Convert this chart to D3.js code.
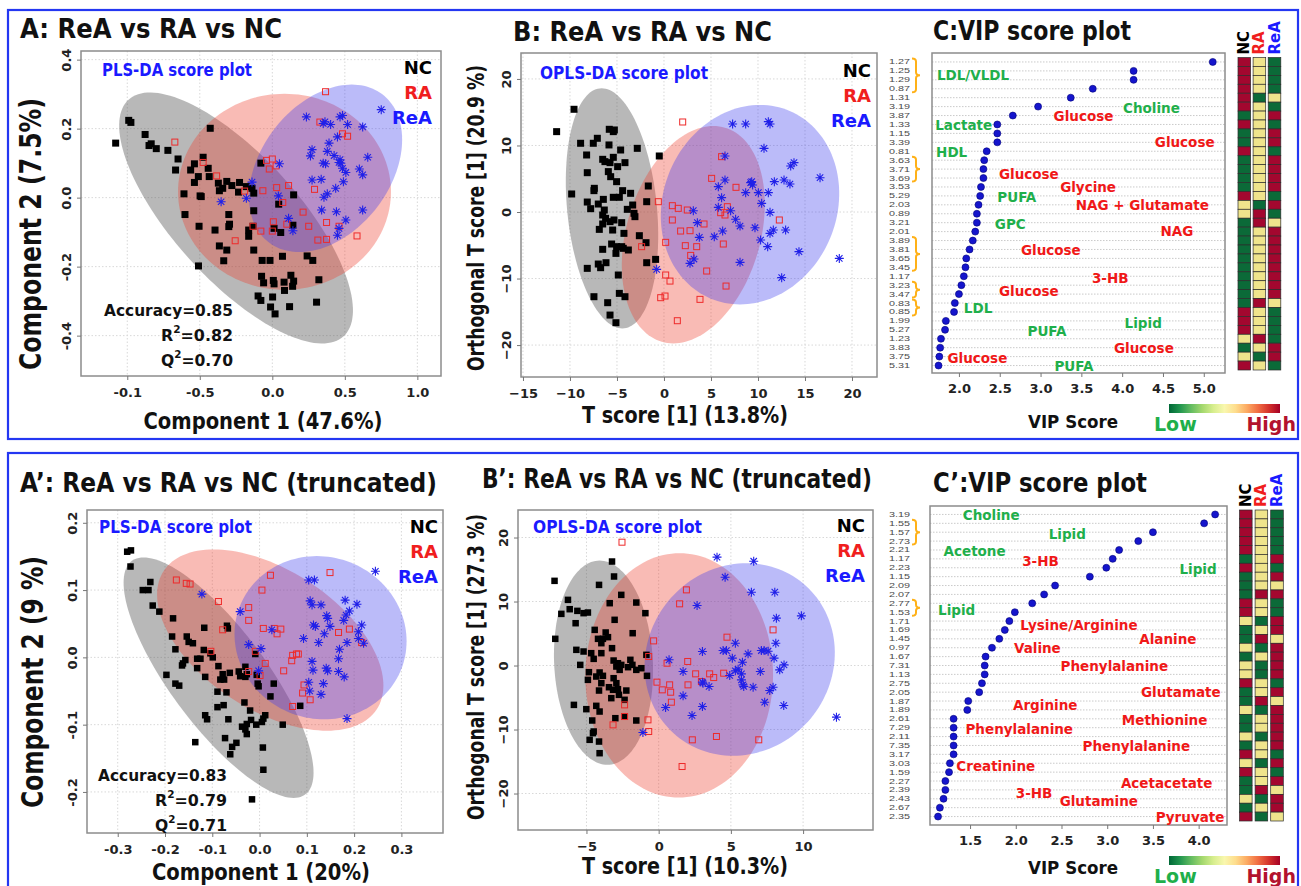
<!DOCTYPE html>
<html>
<head>
<meta charset="utf-8">
<title>PLS-DA / OPLS-DA / VIP</title>
<script src="https://cdn.jsdelivr.net/npm/d3@7"></script>
<style>
  body { margin: 0; background: #fff; }
  svg text { font-family: 'DejaVu Sans', sans-serif; font-weight: bold; }
</style>
</head>
<body>
<script>
// ---------- data: PLS-DA (A) ----------
const plsNC = [[-1.08,0.158],[-0.99,0.224],[-0.975,0.218],[-0.877,0.183],[-0.85,0.151],[-0.835,0.156],[-0.80,0.142],[-0.72,0.137],[-0.65,0.112],[-0.667,0.08],[-0.563,0.08],[-0.537,0.098],[-0.477,0.117],[-0.428,0.201],[-0.442,0.085],[-0.51,0.061],[-0.537,0.044],[-0.435,0.061],[-0.609,0.011],[-0.498,0.005],[-0.49,0.003],[-0.602,-0.049],[-0.372,0.042],[-0.365,0.02],[-0.314,0.047],[-0.342,0.027],[-0.279,0.035],[-0.226,0.044],[-0.233,0.016],[-0.179,0.032],[-0.128,0.013],[-0.14,0.027],[-0.079,0.1],[-0.505,-0.083],[-0.395,-0.094],[-0.3,-0.049],[-0.295,-0.077],[-0.3,-0.084],[-0.365,-0.14],[-0.314,-0.152],[-0.335,-0.183],[-0.509,-0.198],[-0.128,-0.038],[-0.163,-0.094],[-0.163,-0.112],[-0.133,-0.083],[-0.128,-0.152],[-0.07,-0.182],[-0.016,-0.182],[0.012,-0.089],[0.058,-0.101],[0.044,-0.019],[0.147,0.008],[0.142,-0.08],[0.07,-0.17],[-0.074,-0.228],[-0.06,-0.247],[0.007,-0.24],[0.012,-0.25],[0.081,-0.245],[0.128,-0.225],[0.147,-0.242],[0.14,-0.257],[0.084,-0.269],[-0.098,-0.285],[-0.079,-0.298],[0.002,-0.288],[-0.012,-0.317],[0.019,-0.337],[0.119,-0.316],[0.24,-0.169],[0.279,-0.182],[0.321,-0.238],[0.305,-0.303]];
const plsRA = [[0.367,0.307],[-0.672,0.161],[-0.477,0.102],[-0.384,0.063],[0.328,0.219],[0.484,0.185],[0.519,0.178],[-0.04,0.108],[0,0.112],[-0.021,0.083],[0.026,0.092],[-0.191,0.019],[-0.065,0.02],[0.03,0.029],[0.112,0.035],[0.291,0.024],[0.072,-0.014],[0.212,-0.042],[0.007,-0.07],[0.1,-0.077],[-0.133,-0.083],[-0.079,-0.097],[0,-0.097],[0.251,-0.083],[0.374,-0.072],[0.46,-0.083],[-0.256,-0.125],[0.314,-0.123],[0.374,-0.121],[0.584,-0.111]];
const plsReA = [[0.751,0.255],[0.235,0.234],[0.351,0.215],[0.402,0.212],[0.363,0.22],[0.467,0.234],[0.484,0.238],[0.519,0.212],[0.623,0.205],[0.449,0.176],[0.391,0.158],[0.274,0.139],[0.263,0.121],[0.379,0.134],[0.426,0.122],[0.658,0.117],[0.467,0.11],[0.472,0.1],[0.484,0.085],[0.46,0.102],[0.351,0.1],[0.367,0.098],[0.049,0.098],[0.507,0.073],[0.6,0.083],[0.623,0.066],[0.274,0.051],[0.337,0.053],[0.49,0.046],[0.437,0.027],[0.379,0.011],[0.356,0.001],[-0.14,0.045],[-0.179,-0.002],[0.042,0.005],[-0.353,-0.012],[0.34,-0.036],[0.442,-0.041],[0.623,-0.036],[0.112,-0.06],[0.507,-0.065],[0.142,-0.096],[0.46,-0.089],[0.449,-0.109]];
// ellipses: [cx, cy, ux, uy, vx, vy] (centre + two conjugate semi-axes), order NC, RA, ReA
const plsEll = [[-0.25,-0.059,0.741,-0.343,0.317,0.121],[0.084,0.017,0.734,0,0,0.284],[0.367,0.085,0.528,0.083,0,-0.228]];
const plsXt = [-1,-0.5,0,0.5,1], plsXl = ["-0.1","-0.5","0.0","0.5","1.0"];
const plsYt = [0.4,0.2,0,-0.2,-0.4], plsYl = ["0.4","0.2","0.0","-0.2","-0.4"];
const plsStats = ["0.85","0.82","0.70"];

// ---------- data: OPLS-DA (B) ----------
const oplsNC = [[-11.42,12.08],[-9.57,15.44],[-8.87,10.33],[-7.52,10.33],[-7.09,11.08],[-8.23,8.57],[-8.16,5.91],[-9.82,2.71],[-7.41,3.56],[-7.45,3.21],[-8.16,1.5],[-7.8,0.5],[-6.99,1.2],[-6.45,1.9],[-6.35,0.3],[-6.52,-0.45],[-5.82,12.43],[-5.39,12.08],[-5.28,12.33],[-5.85,10.08],[-4.61,9.32],[-2.84,9.57],[-6.52,7.92],[-6.28,7.57],[-5.74,7.42],[-5.39,8.22],[-4.93,6.82],[-4.15,7.42],[-5.92,6.07],[-5.67,5.31],[-5.04,4.56],[-4.4,3.21],[-3.55,2.81],[-5.39,2.21],[-4.75,2.21],[-3.9,0.4],[-3.33,1.05],[-3.19,-0.2],[-3.09,-0.7],[-1.67,3.91],[-1.84,1.55],[-6.21,-0.95],[-6.52,-1.8],[-6.88,-2.61],[-5.74,-1.45],[-5.32,-1.2],[-5.46,-2.71],[-4.5,-1.6],[-4.26,-3.21],[-2.62,-3.56],[-1.91,-4.61],[-6.52,-5.61],[-5.57,-4.81],[-5.04,-5.21],[-4.5,-5.21],[-3.79,-5.71],[-4.33,-5.46],[-5.11,-6.22],[-6.17,-7.62],[-6.99,-7.82],[-6.74,-8.37],[-8.16,-8.47],[-1.84,-7.62],[-0.89,-7.12],[-4.86,-9.47],[-0.5,8.42],[-7.45,-12.73],[-4.75,-12.23],[-4.15,-12.73],[-5.99,-13.63],[-5.74,-15.49],[-5.11,-16.64]];
const oplsRA = [[1.99,13.53],[6.13,8.32],[5.07,5.06],[7.66,3.71],[-0.6,1.55],[0.89,0.95],[1.52,0.55],[2.48,0.3],[6.74,0.8],[6.03,-0.1],[6.49,-0.45],[0.89,-1.2],[4.26,-1.8],[12.27,-1.2],[1.77,-2.86],[2.77,-2.81],[0.18,-4.56],[-2.38,-5.21],[2.27,-5.06],[3.48,-5.21],[6.31,-4.81],[2.84,-6.52],[4.54,-8.87],[0.18,-9.47],[0.64,-10.38],[6.6,-11.13],[0.11,-12.63],[-0.35,-12.88],[3.83,-13.13],[1.42,-16.34]];
const oplsReA = [[7.3,13.23],[8.69,13.23],[11.1,13.58],[11.28,13.23],[10.64,9.57],[6.49,8.42],[6.49,4.81],[5.78,3.81],[6.13,2.16],[9.22,4.41],[9.43,4.06],[9.33,4.56],[8.69,2.91],[10.04,2.91],[11.1,2.91],[10.39,1.3],[11.74,4.56],[12.77,4.81],[13.4,4.21],[13.48,6.92],[13.83,7.42],[16.6,5.16],[3.12,0.2],[5.78,0.7],[7.09,0.2],[11.28,-0.05],[3.55,-1.6],[7.62,-1.1],[8.09,-2.11],[9.68,-2.36],[6.24,-2.86],[11.63,-2.71],[11.28,-3.21],[12.94,-2.71],[3.76,-3.81],[5.35,-3.71],[10.28,-4.21],[11.03,-5.21],[14.36,-5.96],[3.19,-7.07],[2.77,-7.72],[8.09,-7.57],[-0.78,-8.62],[12.52,-9.87],[18.65,-6.97]];
const oplsEll = [[-5.53,0.55,-1.1,18.05,4.79,0],[3.12,-3.41,2.13,16.34,7.3,0],[9.15,1.1,1.06,14.99,9.43,0]];
const oplsXt = [-15,-10,-5,0,5,10,15,20];
const oplsYt = [20,10,0,-10,-20];

// ---------- data: PLS-DA truncated (A') ----------
const plsTNC = [[-0.28,0.157],[-0.272,0.159],[-0.273,0.135],[-0.231,0.112],[-0.247,0.1],[-0.235,0.1],[-0.226,0.077],[-0.212,0.068],[-0.183,0.058],[-0.185,0.031],[-0.178,0.012],[-0.197,-0.026],[-0.178,-0.039],[-0.17,-0.042],[-0.154,0.031],[-0.15,0.023],[-0.141,0.021],[-0.162,-0.009],[-0.164,-0.012],[-0.157,-0.004],[-0.132,-0.002],[-0.125,-0.002],[-0.132,-0.016],[-0.117,0.044],[-0.118,0.011],[-0.104,0.006],[-0.099,0],[-0.087,-0.013],[-0.115,-0.029],[-0.083,-0.033],[-0.078,-0.025],[-0.075,-0.033],[-0.063,-0.023],[-0.069,0.047],[-0.067,0.043],[-0.089,-0.051],[-0.07,-0.052],[-0.044,-0.021],[-0.041,-0.028],[-0.03,-0.029],[-0.03,-0.014],[-0.027,-0.025],[-0.004,-0.039],[-0.002,-0.043],[0.023,-0.058],[0.03,-0.039],[-0.032,-0.067],[-0.02,-0.079],[-0.089,-0.074],[-0.076,-0.071],[-0.115,-0.086],[-0.111,-0.092],[-0.066,-0.092],[-0.037,-0.103],[-0.027,-0.099],[-0.03,-0.107],[-0.018,-0.093],[-0.007,-0.1],[0.005,-0.096],[0.012,-0.086],[0.008,-0.091],[0.049,-0.1],[-0.027,-0.114],[-0.073,-0.12],[-0.049,-0.127],[-0.058,-0.133],[-0.062,-0.144],[-0.136,-0.126],[0.007,-0.134],[0.008,-0.167],[-0.016,-0.211],[0.086,-0.072],[-0.009,0.005],[-0.006,-0.026]];
const plsTRA = [[0.149,0.126],[0.023,0.122],[-0.176,0.115],[-0.155,0.11],[-0.147,0.109],[0.005,0.1],[-0.087,0.083],[-0.023,0.074],[-0.023,0.055],[-0.078,0.041],[0.008,0.043],[0.031,0.043],[0.045,0.042],[0.037,0.035],[0.167,0.037],[0.19,0.042],[0.216,0.022],[-0.103,0.009],[-0.009,0.009],[0.07,0.003],[0.078,0.005],[0.082,0.005],[0.068,-0.005],[0.012,-0.009],[0.051,-0.02],[-0.023,-0.021],[0.001,-0.027],[0.094,-0.041],[0.091,-0.053],[0.107,-0.063],[0.07,-0.073]];
const plsTReA = [[0.245,0.128],[0.104,0.115],[0.116,0.115],[-0.122,0.094],[-0.041,0.068],[0.107,0.084],[0.111,0.078],[0.13,0.078],[0.181,0.085],[0.206,0.079],[0.19,0.069],[0.183,0.063],[0.178,0.055],[0.142,0.062],[0.144,0.058],[0.114,0.048],[0.118,0.046],[0.149,0.046],[0.137,0.035],[0.026,0.041],[0.216,0.048],[0.209,0.038],[0.209,0.028],[0.22,0.021],[0.093,0.028],[0.125,0.022],[0.185,0.022],[-0.023,0.019],[0.003,0.013],[0.169,0.012],[0.167,-0.002],[0.111,-0.006],[0.113,-0.019],[0.141,-0.016],[0.144,-0.02],[0.167,-0.021],[0.179,-0.029],[-0.002,-0.02],[0.104,-0.037],[0.106,-0.05],[0.135,-0.039],[0.13,-0.055],[0.185,-0.091]];
const plsTEll = [[-0.0867,-0.0302,-0.1586,0.1787,0.1233,0],[0.0226,0.0257,-0.1198,0.1347,0.2072,0],[0.129,0.0292,-0.0078,0.1213,0.1818,0]];
const plsTXt = [-0.3,-0.2,-0.1,0,0.1,0.2,0.3], plsTXl = ["-0.3","-0.2","-0.1","0.0","0.1","0.2","0.3"];
const plsTYt = [0.2,0.1,0,-0.1,-0.2], plsTYl = ["0.2","0.1","0.0","-0.1","-0.2"];
const plsTStats = ["0.83","0.79","0.71"];

// ---------- data: OPLS-DA truncated (B') ----------
const oplsTNC = [[-3.23,16.25],[-7.21,13.23],[-3.09,13.91],[-4.13,12.6],[-2.59,11.04],[-6.28,10.26],[-6.16,8.8],[-6.74,8.07],[-5.63,8.54],[-5.2,8.18],[-4.9,8.28],[-5.75,6.61],[-3.39,9.74],[-1.55,9.84],[-0.92,8.18],[-3.05,7.14],[-1.8,5.05],[-7.16,4.17],[-4.43,5.57],[-4.2,4.17],[-3.86,4.17],[-3.67,5.16],[-3.51,4.43],[-3.97,3.49],[-5.7,2.45],[-5.2,2.19],[-4.67,1.93],[-4.5,1.04],[-3.97,1.93],[-3.23,2.71],[-3.12,0.78],[-2.82,0.36],[-2.93,-0.16],[-2.7,-0.68],[-2.59,0.1],[-1.96,0.89],[-1.82,0.1],[-1.55,-0.68],[-1.2,-0.42],[-2.12,-0.26],[-0.85,1.67],[-5.43,0.1],[-4.83,-1.04],[-4.09,-1.09],[-4.32,-1.72],[-3.86,-1.61],[-4.9,-2.24],[-3.97,-2.76],[-4.13,-3.91],[-3.44,-3.39],[-3.16,-3.8],[-2.82,-3.7],[-3.12,-1.98],[-2.93,-2.76],[-3.28,-5.1],[-2.75,-4.58],[-2.24,-3.91],[-2.36,-5.36],[-0.81,-1.61],[-5.87,-6.15],[-5.01,-6.82],[-4.32,-6.3],[-4.09,-7.19],[-4.6,-8.59],[-4.5,-10.31],[-4.55,-10.57],[-3.0,-8.23],[-2.36,-7.97],[-1.55,-8.59],[-4.78,-11.61],[-4.13,-11.88],[-4.09,-13.7]];
const oplsTRA = [[-2.54,19.27],[1.92,11.82],[1.45,9.64],[7.92,5.57],[4.73,4.43],[-0.35,3.85],[-0.69,1.41],[0.58,0.36],[2.01,0.63],[-0.12,-2.6],[0.25,-3.8],[0.76,-3.02],[0.83,-4.17],[0.88,-5.73],[2.03,-3.02],[2.56,-1.3],[3.53,-1.3],[3.81,-1.88],[4.5,-1.2],[2.96,-2.5],[-2.36,-6.15],[-2.36,-7.97],[-3.16,-9.27],[-0.74,-8.49],[-0.69,-10.31],[2.33,-11.61],[4.0,-11.09],[6.93,-11.61],[1.62,-15.78]];
const oplsTReA = [[4.04,16.93],[6.58,16.3],[4.6,13.8],[6.42,11.46],[8.04,11.46],[2.66,9.38],[8.15,7.4],[9.88,7.76],[5.31,3.49],[8.11,3.49],[3.03,2.19],[4.46,2.34],[4.69,2.34],[6.19,1.82],[7.11,2.34],[7.3,2.34],[7.58,2.24],[7.99,1.15],[5.1,1.15],[5.8,0.52],[8.68,0.1],[0.72,0.89],[5.5,-0.57],[5.31,-0.83],[4.92,-1.56],[5.73,-1.3],[5.73,-2.24],[5.84,-3.02],[5.89,-3.28],[7.04,-0.94],[8.38,-0.68],[1.69,-0.94],[3.03,-2.6],[3.07,-2.76],[3.49,-3.28],[6.54,-3.39],[7.69,-3.91],[7.92,-3.39],[1.69,-4.74],[7.34,-5.73],[0.48,-6.56],[3.03,-6.41],[8.66,-6.25],[2.31,-7.81],[-1.09,-10.47],[12.31,-8.07]];
const oplsTEll = [[-3.82,0.44,-0.27,15.96,3.42,0],[1.42,-1.54,0.03,19.09,6.5,0],[5.61,0.94,0.46,15.05,6.57,0]];
const oplsTXt = [-5,0,5,10];

// ---------- data: VIP (C) ----------
const vipPpm = ["1.27","1.25","1.29","0.87","1.31","3.19","3.87","1.33","1.15","3.39","0.81","3.63","3.71","3.69","3.53","5.29","2.03","0.89","3.21","2.01","3.89","3.81","3.65","3.45","1.17","3.23","3.47","0.83","0.85","1.99","5.27","1.23","3.83","3.75","5.31"];
const vipVal = [5.11,4.14,4.14,3.64,3.37,2.97,2.66,2.47,2.47,2.47,2.34,2.31,2.30,2.30,2.27,2.26,2.24,2.22,2.22,2.20,2.17,2.13,2.09,2.08,2.06,2.03,2.00,1.95,1.94,1.84,1.83,1.78,1.77,1.76,1.75];
// relative level per group: 1 high, 0 mid, -1 low
const vipNC  = [1,1,1,1,1,1,-1,1,-1,-1,1,-1,-1,-1,-1,1,0,0,-1,-1,-1,-1,-1,-1,-1,-1,-1,-1,1,1,1,0,-1,0,1];
const vipRA  = [0,0,0,0,-1,0,0,0,0,0,0,0,0,0,0,0,-1,1,1,0,0,0,0,0,0,0,0,1,0,0,0,1,0,-1,0];
const vipReA = [-1,-1,-1,-1,0,-1,1,-1,1,1,-1,1,1,1,1,-1,1,-1,0,1,1,1,1,1,1,1,1,0,-1,-1,-1,-1,1,1,-1];
const vipGroups = [[0,3],[11,13],[20,23],[25,26],[27,28]];
// metabolite notes: [name, VIP position, row, colour key]
const vipNotes = [["LDL/VLDL",1.73,1.5,"g"],["Choline",4.01,5.2,"g"],["Glucose",3.16,6.0,"r"],["Lactate",1.71,7.07,"g"],["Glucose",4.40,8.95,"r"],["HDL",1.72,10.1,"g"],["Glucose",2.49,12.5,"r"],["Glycine",3.24,14.0,"r"],["PUFA",2.47,15.15,"g"],["NAG + Glutamate",3.43,16.0,"r"],["GPC",2.44,18.1,"g"],["NAG",4.47,18.9,"r"],["Glucose",2.76,21.05,"r"],["3-HB",3.63,24.2,"r"],["Glucose",2.49,25.7,"r"],["LDL",2.06,27.6,"g"],["Lipid",4.03,29.2,"g"],["PUFA",2.84,30.1,"g"],["Glucose",3.90,32.0,"r"],["Glucose",1.86,33.1,"r"],["PUFA",3.17,34.1,"g"]];
const vipXt = [2,2.5,3,3.5,4,4.5,5];

// ---------- data: VIP truncated (C') ----------
const vipTPpm = ["3.19","1.55","1.57","2.73","2.21","1.17","2.23","1.15","2.09","2.07","2.77","1.53","1.71","1.69","1.45","0.97","1.67","7.31","1.13","2.75","2.05","1.87","1.89","2.61","7.29","2.11","7.35","3.17","3.03","1.59","2.27","2.39","2.43","2.67","2.35"];
const vipTVal = [4.18,4.06,3.5,3.34,3.13,3.06,2.99,2.81,2.43,2.31,2.18,1.99,1.93,1.88,1.82,1.74,1.67,1.66,1.66,1.63,1.6,1.48,1.47,1.32,1.32,1.32,1.32,1.32,1.28,1.27,1.23,1.23,1.21,1.17,1.15];
const vipTNC  = [1,1,1,1,1,-1,1,-1,-1,-1,1,1,0,-1,-1,0,-1,0,0,1,-1,-1,0,-1,-1,0,-1,1,0,1,-1,-1,0,-1,1];
const vipTRA  = [0,0,0,0,0,0,0,0,0,1,0,0,-1,0,1,-1,0,-1,-1,0,0,1,-1,0,0,-1,0,0,-1,0,0,1,-1,0,-1];
const vipTReA = [-1,-1,-1,-1,-1,1,-1,1,0,1,-1,-1,1,1,0,1,1,1,1,-1,1,0,1,1,1,1,1,-1,1,-1,1,0,1,1,0];
const vipTGroups = [[1,3],[10,11]];
const vipTNotes = [["Choline",1.42,0.1,"g"],["Lipid",2.36,2.15,"g"],["Acetone",1.21,4.15,"g"],["3-HB",2.07,5.2,"r"],["Lipid",3.79,6.15,"g"],["Lipid",1.15,10.75,"g"],["Lysine/Arginine",2.05,12.45,"r"],["Alanine",3.35,14.0,"r"],["Valine",1.98,15.0,"r"],["Phenylalanine",2.49,17.1,"r"],["Glutamate",3.37,20.0,"r"],["Arginine",1.97,21.5,"r"],["Methionine",3.16,23.1,"r"],["Phenylalanine",1.45,24.15,"r"],["Phenylalanine",2.73,26.1,"r"],["Creatinine",1.35,28.3,"r"],["Acetacetate",3.15,30.2,"r"],["3-HB",2.0,31.4,"r"],["Glutamine",2.48,32.3,"r"],["Pyruvate",3.53,34.1,"r"]];
const vipTXt = [1.5,2,2.5,3,3.5,4];

const groups = ["NC","RA","ReA"];

// ---------- drawing ----------
const svg = d3.select("body").append("svg").attr("width", 1301).attr("height", 886);
const grpColor = ["#000000", "#f01e1e", "#1a1aff"];
const ellFill = ["#555555", "#ef3b2c", "#3b3bef"];
const ellAlpha = [0.42, 0.35, 0.35];
const noteColor = { g: "#1faf4b", r: "#f01818" };
const heatColor = { "1": "#a3072f", "0": "#efe48c", "-1": "#0b6a38" };

function addText(g, str, x, y, size, color, anchor, len, rot) {
  const t = g.append("text").attr("x", x).attr("y", y)
    .attr("font-size", size).attr("fill", color || "#000")
    .attr("text-anchor", anchor || "start").attr("dominant-baseline", "central")
    .text(str);
  if (len) t.attr("textLength", len).attr("lengthAdjust", "spacingAndGlyphs");
  if (rot) t.attr("transform", "rotate(" + rot + "," + x + "," + y + ")");
  return t;
}

// blue frames
svg.append("rect").attr("x", 8).attr("y", 10).attr("width", 1290).attr("height", 429)
  .attr("fill", "none").attr("stroke", "#2437f2").attr("stroke-width", 2.2);
svg.append("rect").attr("x", 8).attr("y", 453).attr("width", 1290).attr("height", 440)
  .attr("fill", "none").attr("stroke", "#2437f2").attr("stroke-width", 2.2);

function scorePanel(p) {
  const g = svg.append("g");
  const x = d3.scaleLinear().domain(p.xd).range([p.l, p.r]);
  const y = d3.scaleLinear().domain(p.yd).range([p.t, p.b]);

  g.selectAll(".gx").data(p.xt).join("line")
    .attr("x1", d => x(d)).attr("x2", d => x(d)).attr("y1", p.t).attr("y2", p.b)
    .attr("stroke", "#d8d8d8").attr("stroke-dasharray", "1.5,2");
  g.selectAll(".gy").data(p.yt).join("line")
    .attr("y1", d => y(d)).attr("y2", d => y(d)).attr("x1", p.l).attr("x2", p.r)
    .attr("stroke", "#d8d8d8").attr("stroke-dasharray", "1.5,2");

  const line = d3.line().x(d => x(d[0])).y(d => y(d[1])).curve(d3.curveLinearClosed);
  p.ell.forEach((e, i) => {
    const pts = d3.range(144).map(k => {
      const t = k / 144 * 2 * Math.PI;
      return [e[0] + e[2] * Math.cos(t) + e[4] * Math.sin(t), e[1] + e[3] * Math.cos(t) + e[5] * Math.sin(t)];
    });
    g.append("path").attr("d", line(pts)).attr("fill", ellFill[i]).attr("fill-opacity", ellAlpha[i]);
  });

  const s = p.sq;
  g.selectAll(".nc").data(p.nc).join("rect")
    .attr("x", d => x(d[0]) - s / 2).attr("y", d => y(d[1]) - s / 2)
    .attr("width", s).attr("height", s).attr("fill", "#000");
  g.selectAll(".ra").data(p.ra).join("rect")
    .attr("x", d => x(d[0]) - 3).attr("y", d => y(d[1]) - 3)
    .attr("width", 6).attr("height", 6).attr("fill", "none").attr("stroke", "#ee2a2a").attr("stroke-width", 1);
  g.selectAll(".rea").data(p.rea).join("path")
    .attr("transform", d => "translate(" + x(d[0]) + "," + y(d[1]) + ")")
    .attr("d", "M-4.5,0H4.5M0,-4.5V4.5M-3.2,-3.2L3.2,3.2M-3.2,3.2L3.2,-3.2")
    .attr("stroke", "#2020e8").attr("stroke-width", 1.1).attr("fill", "none");

  g.append("rect").attr("x", p.l).attr("y", p.t).attr("width", p.r - p.l).attr("height", p.b - p.t)
    .attr("fill", "none").attr("stroke", "#8c8c8c").attr("stroke-width", 1.5);

  const ax = g.append("g").attr("transform", "translate(0," + p.b + ")")
    .call(d3.axisBottom(x).tickValues(p.xt).tickFormat((d, i) => p.xl ? p.xl[i] : d3.format("d")(d)).tickSize(4));
  ax.select(".domain").remove();
  ax.selectAll("line").attr("stroke", "#777");
  ax.selectAll("text").attr("y", 16).attr("dy", null).attr("dominant-baseline", "central")
    .attr("font-size", 13).attr("fill", "#222");

  const ay = g.append("g").attr("transform", "translate(" + p.l + ",0)")
    .call(d3.axisLeft(y).tickValues(p.yt).tickFormat((d, i) => p.yl ? p.yl[i] : d3.format("d")(d)).tickSize(4));
  ay.select(".domain").remove();
  ay.selectAll("line").attr("stroke", "#777");
  ay.selectAll("text").attr("x", null).attr("dy", null).attr("y", -15)
    .attr("transform", "rotate(-90)").attr("text-anchor", "middle").attr("dominant-baseline", "central")
    .attr("font-size", 13).attr("fill", "#222");

  addText(g, p.title, p.title0[0], p.title0[1], 27, "#111", "start", p.title0[2]);
  addText(g, p.ylab, p.ylab0[0], p.ylab0[1], p.ylab0[3], "#111", "middle", p.ylab0[2], -90);
  addText(g, p.xlab, p.xlab0[0], p.xlab0[1], 23, "#111", "middle", p.xlab0[2]);
  addText(g, p.sub, p.sub0[0], p.sub0[1], 17, "#1a1aff", "start", p.sub0[2]);
  groups.forEach((k, i) => addText(g, k, p.r - p.legR, p.legY + i * 25, 18, grpColor[i], "end"));

  if (p.stats) {
    const [ax0, ay0] = p.stats0;
    addText(g, "Accuracy=" + p.stats[0], ax0, ay0, 16.5, "#111", "end", 129);
    ["R", "Q"].forEach((L, i) => {
      const t = g.append("text").attr("x", ax0).attr("y", ay0 + 25 * (i + 1)).attr("font-size", 16.5)
        .attr("fill", "#111").attr("text-anchor", "end").attr("dominant-baseline", "central")
        .attr("textLength", 72).attr("lengthAdjust", "spacingAndGlyphs");
      t.append("tspan").text(L);
      t.append("tspan").attr("font-size", 11).attr("dy", -6).text("2");
      t.append("tspan").attr("dy", 6).text("=" + p.stats[i + 1]);
    });
  }
}

scorePanel({
  l: 81, r: 441, t: 51, b: 376, xd: [-1.319, 1.163], yd: [0.425, -0.517],
  xt: plsXt, xl: plsXl, yt: plsYt, yl: plsYl, ell: plsEll, nc: plsNC, ra: plsRA, rea: plsReA, sq: 7,
  title: "A: ReA vs RA vs NC", title0: [20, 28, 262],
  ylab: "Component 2 (7.5%)", ylab0: [30, 234, 272, 30],
  xlab: "Component 1 (47.6%)", xlab0: [263, 421, 239],
  sub: "PLS-DA score plot", sub0: [102, 70, 150], legR: 9, legY: 67,
  stats: plsStats, stats0: [233, 310]
});
scorePanel({
  l: 521, r: 877, t: 53, b: 377, xd: [-15.21, 22.66], yd: [23.9, -24.8],
  xt: oplsXt, yt: oplsYt, ell: oplsEll, nc: oplsNC, ra: oplsRA, rea: oplsReA, sq: 7,
  title: "B: ReA vs RA vs NC", title0: [513, 31, 259],
  ylab: "Orthogonal T score [1] (20.9 %)", ylab0: [476, 218, 306, 23],
  xlab: "T score [1] (13.8%)", xlab0: [685, 415, 206],
  sub: "OPLS-DA score plot", sub0: [540, 73, 168], legR: 6, legY: 70
});
scorePanel({
  l: 87, r: 443, t: 510, b: 833, xd: [-0.365, 0.388], yd: [0.219, -0.261],
  xt: plsTXt, xl: plsTXl, yt: plsTYt, yl: plsTYl, ell: plsTEll, nc: plsTNC, ra: plsTRA, rea: plsTReA, sq: 6.5,
  title: "A\u2019: ReA vs RA vs NC (truncated)", title0: [20, 482, 417],
  ylab: "Component 2 (9 %)", ylab0: [32, 682, 252, 30],
  xlab: "Component 1 (20%)", xlab0: [261, 872, 218],
  sub: "PLS-DA score plot", sub0: [99, 527, 153], legR: 5, legY: 526,
  stats: plsTStats, stats0: [227, 775]
});
scorePanel({
  l: 518, r: 873, t: 510, b: 830, xd: [-9.74, 14.84], yd: [24.3, -25.7],
  xt: oplsTXt, yt: oplsYt, ell: oplsTEll, nc: oplsTNC, ra: oplsTRA, rea: oplsTReA, sq: 6.5,
  title: "B\u2019: ReA vs RA vs NC (truncated)", title0: [482, 478, 390],
  ylab: "Orthogonal T score [1] (27.3 %)", ylab0: [476, 667, 306, 23],
  xlab: "T score [1] (10.3%)", xlab0: [685, 866, 206],
  sub: "OPLS-DA score plot", sub0: [533, 527, 169], legR: 8, legY: 525
});

// colour bar gradient
const grad = svg.append("defs").append("linearGradient").attr("id", "lowhigh");
d3.range(0, 1.0001, 0.1).forEach(t => grad.append("stop").attr("offset", t).attr("stop-color", d3.interpolateRdYlGn(1 - t)));

function vipPanel(p) {
  const g = svg.append("g");
  const n = p.ppm.length;
  const x = d3.scaleLinear().domain(p.xd).range([p.l, p.r]);
  const band = d3.scaleBand().domain(d3.range(n)).range([p.ht, p.hb]);
  const bw = band.bandwidth();
  const yr = d3.scaleLinear().domain([0, n - 1]).range([band(0) + bw / 2, band(n - 1) + bw / 2]);

  g.selectAll(".row").data(d3.range(n)).join("line")
    .attr("x1", p.l).attr("x2", p.r).attr("y1", d => yr(d)).attr("y2", d => yr(d))
    .attr("stroke", "#bdbdbd").attr("stroke-width", 0.8).attr("stroke-dasharray", "1.5,1.5");
  g.append("rect").attr("x", p.l).attr("y", p.t).attr("width", p.r - p.l).attr("height", p.b - p.t)
    .attr("fill", "none").attr("stroke", "#8c8c8c").attr("stroke-width", 1.5);

  g.selectAll(".dot").data(p.val).join("circle")
    .attr("cx", d => x(d)).attr("cy", (d, i) => yr(i)).attr("r", 3.5)
    .attr("fill", "#1515cc").attr("stroke", "#00007a").attr("stroke-width", 0.6);

  p.notes.forEach(d => addText(g, d[0], x(d[1]), yr(d[2]), 13.5, noteColor[d[3]], "start"));

  // ppm labels are packed one per row, so keep the type small and widen it
  g.selectAll(".ppm").data(p.ppm).join("text")
    .attr("x", 910).attr("y", (d, i) => yr(i)).attr("text-anchor", "end").attr("dominant-baseline", "central")
    .attr("font-size", 7.8).attr("fill", "#4a4a4a")
    .attr("textLength", 21).attr("lengthAdjust", "spacingAndGlyphs")
    .style("font-family", "'Liberation Sans', Arial, sans-serif").style("font-weight", "normal")
    .text(d => d);

  p.brackets.forEach(([a, b]) => {
    const y0 = yr(a) - 3.5, y1 = yr(b) + 3.5, ym = (y0 + y1) / 2;
    const path = "M912," + y0 + "Q916," + y0 + " 916," + (y0 + 3) + "L916," + (ym - 3) + "Q916," + ym + " 920," + ym +
      "Q916," + ym + " 916," + (ym + 3) + "L916," + (y1 - 3) + "Q916," + y1 + " 912," + y1;
    g.append("path").attr("d", path).attr("fill", "none").attr("stroke", "#ffb118").attr("stroke-width", 2);
  });

  const ax = g.append("g").attr("transform", "translate(0," + p.b + ")")
    .call(d3.axisBottom(x).tickValues(p.xt).tickFormat(d3.format(".1f")).tickSize(4));
  ax.select(".domain").remove();
  ax.selectAll("line").attr("stroke", "#777");
  ax.selectAll("text").attr("y", 15).attr("dy", null).attr("dominant-baseline", "central")
    .attr("font-size", 13).attr("fill", "#222");

  [p.nc, p.ra, p.rea].forEach((col, c) => {
    g.selectAll(".h" + c).data(col).join("rect")
      .attr("x", p.hx + c * p.hs).attr("y", (d, i) => band(i)).attr("width", p.hw).attr("height", bw)
      .attr("fill", d => heatColor[d]).attr("stroke", "#2b2b2b").attr("stroke-width", 0.7);
    addText(g, groups[c], p.hx + c * p.hs + p.hw / 2, p.ht - 3, 15, grpColor[c], "start", null, -90);
  });

  g.append("rect").attr("x", 1169).attr("y", p.cb).attr("width", 111).attr("height", 9).attr("fill", "url(#lowhigh)");
  addText(g, "Low", 1154, p.cb + 20, 19, "#1faf4b", "start");
  addText(g, "High", 1296, p.cb + 20, 19, "#b3122e", "end");
  addText(g, "VIP Score", 1073, p.vy, 18, "#111", "middle", 90);
  addText(g, p.title, 933, p.ty, 27, "#111", "start", p.tl);
}

vipPanel({
  l: 932, r: 1225, t: 53, b: 373, xd: [1.67, 5.26], ht: 57.5, hb: 370,
  ppm: vipPpm, val: vipVal, nc: vipNC, ra: vipRA, rea: vipReA, notes: vipNotes, brackets: vipGroups, xt: vipXt,
  hx: 1238, hs: 15.1, hw: 12.6, cb: 404, vy: 421, title: "C:VIP score plot", ty: 30, tl: 198
});
vipPanel({
  l: 930, r: 1227, t: 506, b: 825, xd: [1.062, 4.31], ht: 510, hb: 821,
  ppm: vipTPpm, val: vipTVal, nc: vipTNC, ra: vipTRA, rea: vipTReA, notes: vipTNotes, brackets: vipTGroups, xt: vipTXt,
  hx: 1239.5, hs: 15.6, hw: 12.6, cb: 856, vy: 867, title: "C\u2019:VIP score plot", ty: 482, tl: 214
});
</script>
</body>
</html>
